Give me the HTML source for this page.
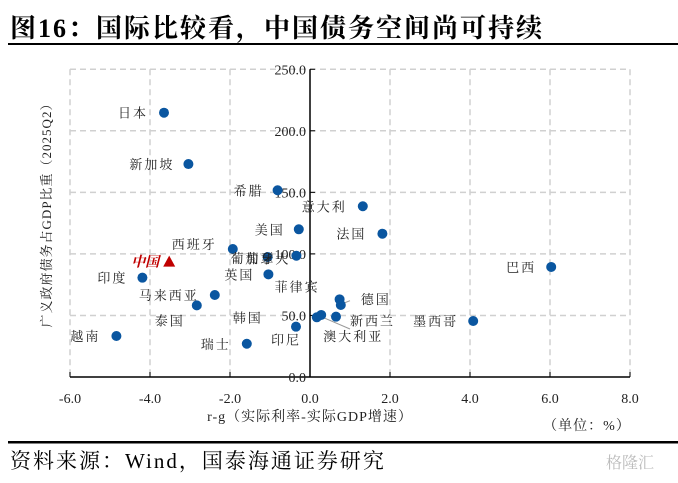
<!DOCTYPE html>
<html><head><meta charset="utf-8"><style>
body{margin:0;background:#fff;width:678px;height:478px;overflow:hidden;font-family:"Liberation Serif","Noto Serif CJK SC",serif;}
svg text{font-family:"Liberation Serif","Noto Serif CJK SC",serif;}
</style></head><body>
<svg width="678" height="478">
<text x="10" y="37" font-size="26" font-weight="bold" fill="#000" letter-spacing="2">图16：国际比较看，中国债务空间尚可持续</text>
<rect x="8" y="43" width="670" height="2" fill="#000"/>
<g id="grid"></g><g id="axes"></g><g id="marks"></g>
<text transform="translate(51,212) rotate(-90)" text-anchor="middle" font-size="13" fill="#222" letter-spacing="1">广义政府债务占GDP比重（2025Q2）</text>
<text x="310" y="421" text-anchor="middle" font-size="14" fill="#222" letter-spacing="1">r-g（实际利率-实际GDP增速）</text>
<text x="587" y="430" text-anchor="middle" font-size="14" fill="#222" letter-spacing="1">（单位：%）</text>
<rect x="8" y="441" width="670" height="2.5" fill="#000"/>
<text x="10" y="468" font-size="21" fill="#000" letter-spacing="2">资料来源：Wind，国泰海通证券研究</text>
<text x="606" y="468" font-size="16" fill="#bbb">格隆汇</text>
</svg>
<script>
const names=["日本","新加坡","希腊","意大利","美国","法国","西班牙","葡萄牙","加拿大","印度","英国","马来西亚","泰国","越南","瑞士","印尼","韩国","澳大利亚","新西兰","菲律宾","德国","墨西哥","巴西"];
const rg=[-3.65,-3.04,-0.81,1.32,-0.28,1.81,-1.93,-1.06,-0.34,-4.19,-1.04,-2.38,-2.83,-4.84,-1.58,-0.35,0.17,0.28,0.65,0.74,0.77,4.08,6.03];
const debt=[214.7,173,151.7,138.7,120,116.4,104,97.5,98.5,80.7,83.4,66.6,58.2,33.3,27,40.9,48.5,50.4,49,63.1,58.5,45.5,89.4];
const chinaRg=[-3.52];const chinaDebt=[93.7];
const xTicks=[-6,-4,-2,0,2,4,6,8];const yTicks=[0,50,100,150,200,250];
const off={"日本":[-16,5,"end"],"新加坡":[-14,5,"end"],"希腊":[-14,5,"end"],"意大利":[-16,5,"end"],"美国":[-14,5,"end"],"法国":[-16,5,"end"],"西班牙":[-16,0,"end"],"葡萄牙":[8,6,"end"],"加拿大":[-6,8,"end"],"印度":[-15,5,"end"],"英国":[-14,5,"end"],"马来西亚":[-16,5,"end"],"泰国":[-12,20,"end"],"越南":[-16,5,"end"],"瑞士":[-16,5,"end"],"印尼":[5,18,"end"],"韩国":[-54,5,"end"],"澳大利亚":[2,26,"start"],"新西兰":[14,9,"start"],"菲律宾":[-20,-8,"end"],"德国":[20,-1,"start"],"墨西哥":[-15,5,"end"],"巴西":[-15,5,"end"]};
const X=v=>310+v*40, Y=v=>377-v*1.231;
const NS="http://www.w3.org/2000/svg";
function mk(t,a,p){const e=document.createElementNS(NS,t);for(const k in a)e.setAttribute(k,a[k]);p.appendChild(e);return e;}
const grid=document.getElementById('grid'),axes=document.getElementById('axes'),marks=document.getElementById('marks');
xTicks.forEach(v=>{if(v===0)return;const l=mk('line',{x1:X(v),x2:X(v),y1:Y(250),y2:Y(0),stroke:'#d0d0d0','stroke-dasharray':'6,4','stroke-width':1.5},grid);

});
yTicks.forEach(v=>{if(v===0)return;const l=mk('line',{x1:X(-6),x2:X(8),y1:Y(v),y2:Y(v),stroke:'#d0d0d0','stroke-dasharray':'6,4','stroke-width':1.5},grid);

});
let a=mk('line',{x1:X(-6),x2:X(8),y1:Y(0),y2:Y(0),stroke:'#000','stroke-width':1.5},axes);


a=mk('line',{x1:X(0),x2:X(0),y1:Y(250),y2:Y(0),stroke:'#000','stroke-width':1.5},axes);


xTicks.forEach(v=>{mk('line',{x1:X(v),x2:X(v),y1:Y(0),y2:Y(0)-5,stroke:'#000'},axes);
const t=mk('text',{x:X(v),y:403,'text-anchor':'middle','font-size':14,fill:'#222'},axes);t.textContent=v.toFixed(1);

});
yTicks.forEach(v=>{mk('line',{x1:X(0),x2:X(0)+5,y1:Y(v),y2:Y(v),stroke:'#000'},axes);
const t=mk('text',{x:X(0)-4,y:Y(v)+5,'text-anchor':'end','font-size':14,fill:'#222'},axes);t.textContent=v.toFixed(1);

});
const ld=[[0.77,60,1.0,62],[0.28,48,1.0,39]];
ld.forEach(d=>{const l=mk('line',{x1:X(d[0])+3,y1:Y(d[1]),x2:X(d[2]),y2:Y(d[3]),stroke:'#999'},marks);

});
names.forEach((n,i)=>{const c=mk('circle',{cx:X(rg[i]),cy:Y(debt[i]),r:5,fill:'#0a56a0'},marks);


const o=off[n];const t=mk('text',{x:X(rg[i])+o[0],y:Y(debt[i])+o[1],'text-anchor':o[2],'font-size':13,fill:'#222','letter-spacing':'2'},marks);t.textContent=n;

});
const cx=X(chinaRg[0]),cy=Y(chinaDebt[0]);
const tri=mk('polygon',{points:`${cx},${cy-6} ${cx-6},${cy+5} ${cx+6},${cy+5}`,fill:'#c00000'},marks);


const ct=mk('text',{x:cx-10,y:cy+5,'text-anchor':'end','font-size':14,'font-weight':'bold','font-style':'italic',fill:'#c00000'},marks);ct.textContent='中国';


</script>
</body></html>
